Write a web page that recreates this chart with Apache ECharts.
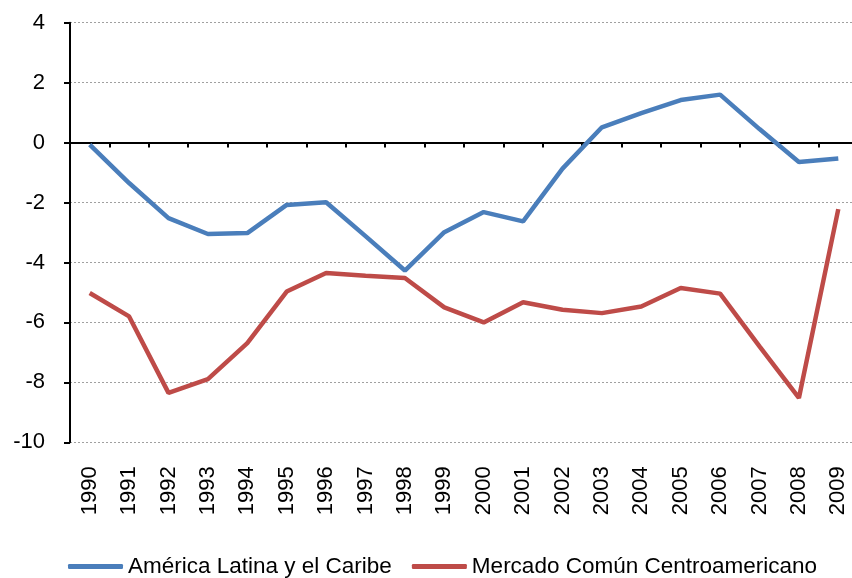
<!DOCTYPE html>
<html>
<head>
<meta charset="utf-8">
<script src="https://cdn.jsdelivr.net/npm/echarts@6/dist/echarts.min.js"></script>
<style>html,body{margin:0;padding:0;background:#fff}#c{width:852px;height:578px}</style>
</head>
<body>
<div id="c"></div>
<script>
const years = ['1990','1991','1992','1993','1994','1995','1996','1997','1998','1999','2000','2001','2002','2003','2004','2005','2006','2007','2008','2009'];
const americaLatina = [-0.07,-1.35,-2.52,-3.05,-3.02,-2.08,-1.99,-3.12,-4.27,-2.99,-2.32,-2.63,-0.87,0.51,0.98,1.42,1.6,0.45,-0.65,-0.53];
const mercadoComun = [-5.02,-5.8,-8.35,-7.89,-6.69,-4.97,-4.35,-4.44,-4.52,-5.5,-6.0,-5.33,-5.58,-5.69,-5.47,-4.85,-5.04,-6.8,-8.52,-2.22];
const seriesNames = ['América Latina y el Caribe','Mercado Común Centroamericano'];
const yTicks = {min:-10, max:4, interval:2};

const font = 'Liberation Sans, Arial, sans-serif';
const chart = echarts.init(document.getElementById('c'));
chart.setOption({
  animation:false,
  textStyle:{fontFamily:font},
  grid:{left:70, width:788, top:22.7, height:419.6, containLabel:false, outerBoundsMode:'none'},
  legend:{
    left:63, top:550, padding:5, itemWidth:55, itemHeight:5, itemGap:20, icon:'roundRect',
    textStyle:{fontSize:22.5, color:'#000', fontFamily:font},
    data:seriesNames
  },
  xAxis:[{
    type:'category', data:years, position:'bottom', boundaryGap:true,
    axisLine:{show:false, onZero:false}, axisTick:{show:false},
    axisLabel:{rotate:90, margin:24, fontSize:22, color:'#000', fontFamily:font, interval:0}
  },{
    type:'category', data:years, position:'top', boundaryGap:true,
    axisLine:{show:true, onZero:true, lineStyle:{color:'#000', width:2}},
    axisTick:{show:true, inside:true, length:5, lineStyle:{color:'#000', width:2}, interval:0},
    axisLabel:{show:false}
  }],
  yAxis:{
    type:'value', min:yTicks.min, max:yTicks.max, interval:yTicks.interval,
    axisLine:{show:true, lineStyle:{color:'#000', width:2}},
    axisTick:{show:true, length:6, lineStyle:{color:'#000', width:2}},
    axisLabel:{margin:25, fontSize:22, color:'#000', fontFamily:font},
    splitLine:{show:true, lineStyle:{color:'#a0a0a0', type:[2,2], width:1}}
  },
  series:[{
    name:seriesNames[0], type:'line', data:americaLatina, xAxisIndex:0,
    showSymbol:false, symbol:'none', lineStyle:{color:'#4a7ebb', width:4.5}, itemStyle:{color:'#4a7ebb'}
  },{
    name:seriesNames[1], type:'line', data:mercadoComun, xAxisIndex:0,
    showSymbol:false, symbol:'none', lineStyle:{color:'#be4b48', width:4.5}, itemStyle:{color:'#be4b48'}
  }]
});
</script>
</body>
</html>
